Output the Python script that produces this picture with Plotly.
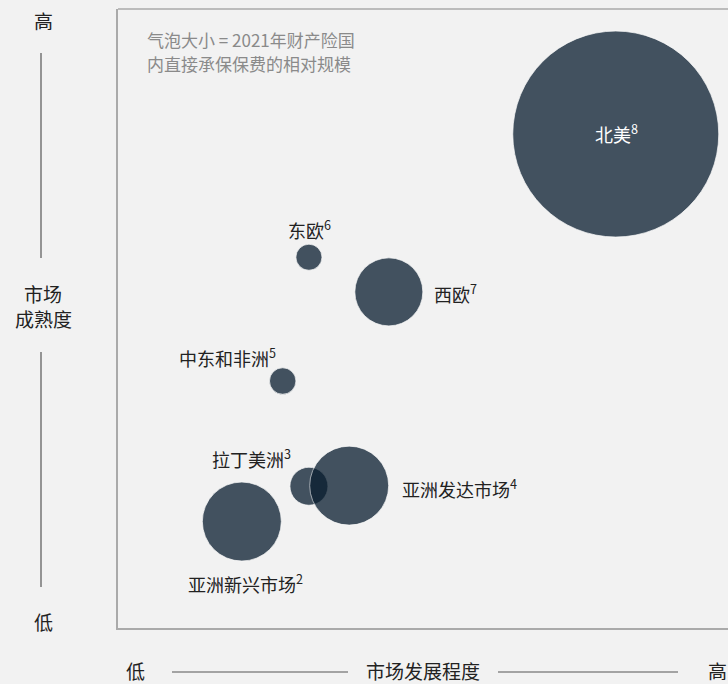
import plotly.graph_objects as go

# ---- data ----
regions = ["亚洲新兴市场", "拉丁美洲", "亚洲发达市场", "中东和非洲", "东欧", "西欧", "北美"]
footnotes = [2, 3, 4, 5, 6, 7, 8]
development = [20.3, 31.3, 37.9, 27.0, 31.3, 44.4, 81.6]   # 市场发展程度 (relative)
maturity = [17.2, 22.9, 23.0, 39.9, 59.9, 54.3, 79.8]      # 市场成熟度 (relative)
premium = [14.7, 3.4, 14.7, 1.65, 1.6, 10.9, 100.0]         # 相对保费规模
note_lines = ["气泡大小 = 2021年财产险国", "内直接承保保费的相对规模"]

# ---- layout constants ----
W, H = 728, 684
ML, MR, MT, MB = 118, 0, 9, 56
PW, PH = W - ML - MR, H - MT - MB
FONT = "Noto Sans CJK SC, Noto Sans CJK JP, sans-serif"
BG = "#f2f2f2"
TXT = "#222222"


def px(x):
    return (x - ML) / PW


def py(y):
    return (H - MB - y) / PH


fig = go.Figure()
fig.add_trace(go.Scatter(
    x=development, y=maturity, mode="markers",
    marker=dict(size=premium, sizemode="area",
                sizeref=2 * max(premium) / (206 ** 2),
                color="rgb(8,28,46)", opacity=0.75,
                line=dict(color="rgba(255,255,255,0.7)", width=1)),
    hoverinfo="skip", showlegend=False, cliponaxis=False,
))

# label placement (anchor, xshift, yshift, colour)
place = {
    "亚洲新兴市场": ("center", 4, -61, TXT),
    "拉丁美洲": ("right", -16, 28, TXT),
    "亚洲发达市场": ("left", 51, -2, TXT),
    "中东和非洲": ("right", -5, 24, TXT),
    "东欧": ("center", 1, 28, TXT),
    "西欧": ("left", 43, -1, TXT),
    "北美": ("center", 1, 1, "#ffffff"),
}
for r, fn, xv, yv in zip(regions, footnotes, development, maturity):
    anc, xs, ys, col = place[r]
    fig.add_annotation(x=xv, y=yv, xref="x", yref="y",
                       text=f"{r}<sup>{fn}</sup>", showarrow=False,
                       xanchor=anc, yanchor="middle", xshift=xs, yshift=ys,
                       font=dict(family=FONT, size=18, color=col))

# note (two lines)
for t, y in zip(note_lines, [40, 63]):
    fig.add_annotation(x=px(146), y=py(y), xref="paper", yref="paper", text=t,
                       showarrow=False, xanchor="left", yanchor="middle", borderpad=0,
                       font=dict(family=FONT, size=17, color="#8a8a8a"))

# axis labels (outside)
ax_font = dict(family=FONT, size=19, color=TXT)
for t, x, y in [("高", 43, 20), ("低", 43, 621), ("市场", 43, 293), ("成熟度", 43, 318),
                ("低", 135, 670), ("市场发展程度", 423, 670), ("高", 717, 670)]:
    fig.add_annotation(x=px(x), y=py(y), xref="paper", yref="paper", text=t,
                       showarrow=False, xanchor="center", yanchor="middle", borderpad=0,
                       font=ax_font, align="center")

line_style = dict(color="#555555", width=1.2)
for x0, y0, x1, y1 in [(41, 53, 41, 258), (41, 352, 41, 587),
                       (172, 672, 348, 672), (498, 672, 678, 672)]:
    fig.add_shape(type="line", xref="paper", yref="paper",
                  x0=px(x0), y0=py(y0), x1=px(x1), y1=py(y1), line=line_style)

# top border of plot box
fig.add_shape(type="line", xref="paper", yref="paper", x0=0, y0=1, x1=1, y1=1,
              line=dict(color="#aaaaaa", width=1.5))

fig.update_xaxes(range=[0, 100], showgrid=False, zeroline=False, showticklabels=False,
                 ticks="", showline=True, linecolor="#aaaaaa", linewidth=1.5)
fig.update_yaxes(range=[0, 100], showgrid=False, zeroline=False, showticklabels=False,
                 ticks="", showline=True, linecolor="#aaaaaa", linewidth=1.5)

fig.update_layout(width=W, height=H, margin=dict(l=ML, r=MR, t=MT, b=MB),
                  paper_bgcolor=BG, plot_bgcolor=BG, font=dict(family=FONT),
                  hovermode=False)

fig.write_html("out.html")
